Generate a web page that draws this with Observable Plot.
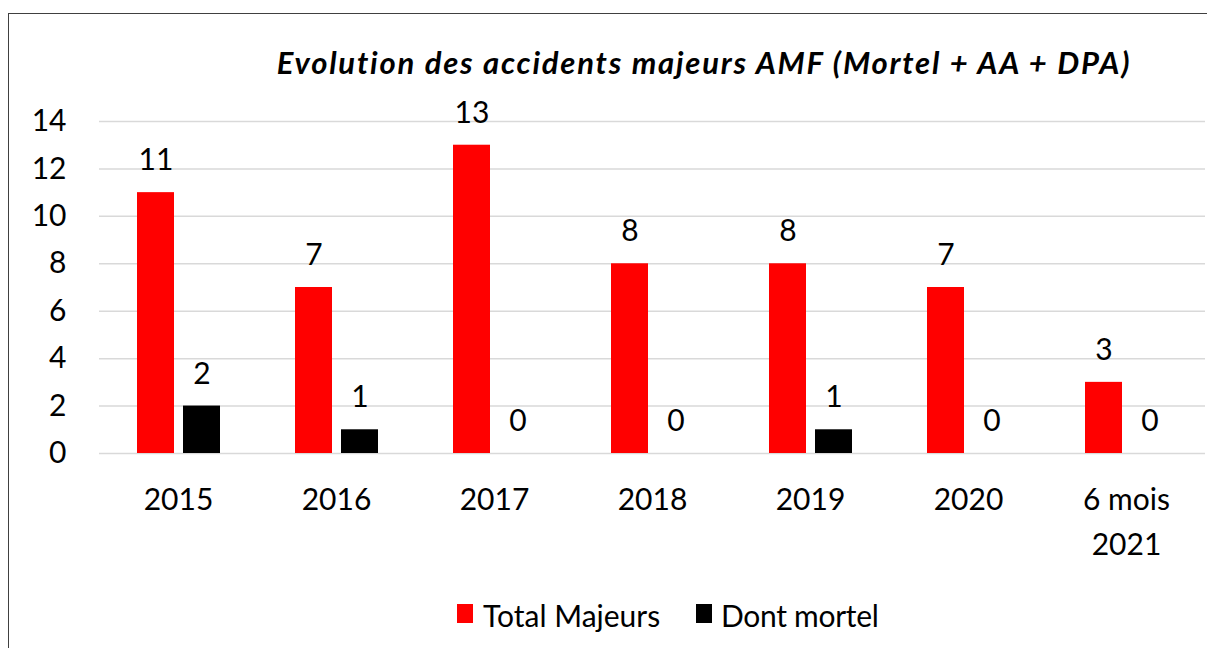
<!DOCTYPE html>
<html>
<head>
<meta charset="utf-8">
<script src="https://cdn.jsdelivr.net/npm/d3@7"></script>
<script src="https://cdn.jsdelivr.net/npm/@observablehq/plot@0.6"></script>
<style>
  html, body { margin: 0; padding: 0; background: #fff; overflow: hidden; }
  #wrap { position: relative; width: 1207px; height: 648px; font-family: Lato, sans-serif; }
  #frame { position: absolute; left: 8px; top: 13px; width: 1250px; height: 700px; border: 1px solid #404040; box-sizing: border-box; }
  #title { position: absolute; left: 254px; top: 40px; width: 900px; text-align: center; font-size: 31px; letter-spacing: 1.8px; font-weight: bold; font-style: italic; line-height: 44px; white-space: nowrap; color: #000; }
  #chart { position: absolute; left: 0; top: 0; }
  .leg { position: absolute; font-size: 30px; line-height: 36px; white-space: nowrap; color: #000; }
  .sw { position: absolute; width: 16px; height: 19px; }
</style>
</head>
<body>
<div id="wrap">
  <div id="frame"></div>
  <div id="chart"></div>
  <div id="title">Evolution des accidents majeurs AMF (Mortel + AA + DPA)</div>
  <div class="sw" style="left:457px; top:604px; background:#ff0000;"></div>
  <div class="leg" style="left:483px; top:597px;">Total Majeurs</div>
  <div class="sw" style="left:696px; top:604px; background:#000000;"></div>
  <div class="leg" style="left:721px; top:597px; letter-spacing:-0.3px;">Dont mortel</div>
</div>
<script>
const categories = ["2015", "2016", "2017", "2018", "2019", "2020", "6 mois\n2021"];
const series = ["Total Majeurs", "Dont mortel"];
const totalMajeurs = [11, 7, 13, 8, 8, 7, 3];
const dontMortel = [2, 1, 0, 0, 1, 0, 0];
const yTicks = [0, 2, 4, 6, 8, 10, 12, 14];
const colors = ["#ff0000", "#000000"];

const data = [];
categories.forEach((c, i) => {
  data.push({cat: c, series: series[0], value: totalMajeurs[i]});
  data.push({cat: c, series: series[1], value: dontMortel[i]});
});

const chart = Plot.plot({
  width: 1207,
  height: 580,
  marginLeft: 98,
  marginRight: 1,
  marginTop: 121,
  marginBottom: 127,
  style: {fontFamily: "Lato, sans-serif", fontSize: "30px", color: "#000", background: "transparent", overflow: "visible"},
  fx: {domain: categories, paddingInner: 0, paddingOuter: 0, label: null},
  x: {domain: series, paddingInner: 0.196, paddingOuter: 0.815, axis: null},
  y: {domain: [0, 14], label: null},
  color: {domain: series, range: colors},
  marks: [
    Plot.gridY(yTicks, {stroke: "#d9d9d9", strokeOpacity: 1, strokeWidth: 1.5}),
    Plot.axisY(yTicks, {tickSize: 0, tickPadding: 33, fontSize: 30, label: null}),
    Plot.barY(data, {fx: "cat", x: "series", y: "value", fill: "series"}),
    Plot.text(data, {fx: "cat", x: "series", y: "value", text: d => String(d.value), dy: -32, fontSize: 30, fill: "#000"}),
    Plot.axisFx({anchor: "bottom", tickSize: 0, tickPadding: 25, fontSize: 30, lineHeight: 1.5, label: null})
  ]
});
document.getElementById("chart").appendChild(chart);
</script>
</body>
</html>
